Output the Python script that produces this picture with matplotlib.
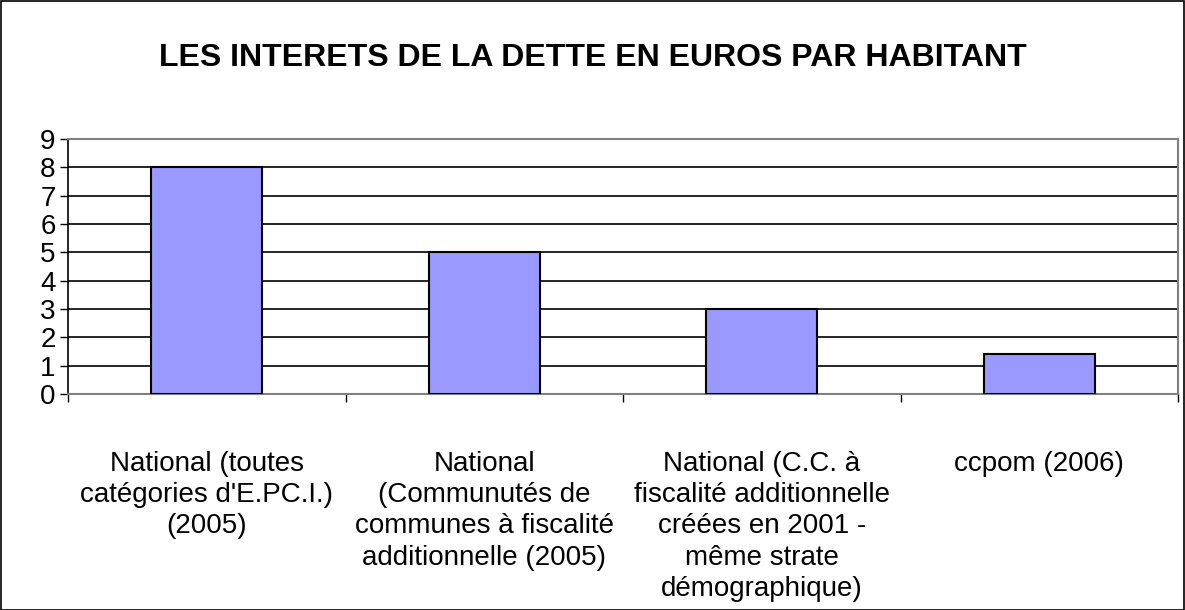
import matplotlib
matplotlib.use("Agg")
import matplotlib.pyplot as plt
from matplotlib.patches import Rectangle

categories = [
    "National (toutes\ncatégories d'E.PC.I.)\n(2005)",
    "National\n(Communutés de\ncommunes à fiscalité\nadditionnelle (2005)",
    "National (C.C. à\nfiscalité additionnelle\ncréées en 2001 -\nmême strate\ndémographique)",
    "ccpom (2006)",
]
values = [8, 5, 3, 1.4]
yticks = list(range(0, 10))
title = "LES INTERETS DE LA DETTE EN EUROS PAR HABITANT"

plt.rcParams['font.family'] = ['Liberation Sans', 'DejaVu Sans']

W, H = 1185, 610
fig = plt.figure(figsize=(W / 100, H / 100), dpi=100)
ax = fig.add_axes([68 / W, 1 - 394 / H, (1178 - 68) / W, (394 - 139) / H])

x = list(range(len(categories)))
ax.bar(x, values, width=0.4, color='#9999ff', edgecolor='black', linewidth=1.5, zorder=3)
ax.set_xlim(-0.5, len(categories) - 0.5)
ax.set_ylim(0, 9)
ax.set_yticks(yticks)
ax.set_yticklabels([str(t) for t in yticks], fontsize=20)
ax.yaxis.grid(True, color='black', linewidth=1.2, zorder=0)
ax.tick_params(axis='y', direction='out', length=6, width=1, pad=3)

ax.set_xticks([i - 0.5 for i in range(len(categories) + 1)], minor=False)
ax.set_xticklabels([])
ax.tick_params(axis='x', direction='out', length=6, width=1, color='black')
for i, lab in enumerate(categories):
    ax.text(i, -2.0, lab, ha='center', va='top', fontsize=20, linespacing=1.27)

for s in ['top', 'right', 'bottom']:
    ax.spines[s].set_color('#808080')
    ax.spines[s].set_linewidth(1.5)
ax.spines['left'].set_color('black')
ax.spines['left'].set_linewidth(1.2)

fig.text(0.5, 1 - 58 / H, title, ha='center', va='center', fontsize=23, fontweight='bold')

fig.patches.append(Rectangle((0.5 / W, 0.5 / H), 1 - 1.5 / W, 1 - 1.5 / H, transform=fig.transFigure,
                             fill=False, edgecolor='black', linewidth=1.2))

fig.savefig("out.png", dpi=100)
